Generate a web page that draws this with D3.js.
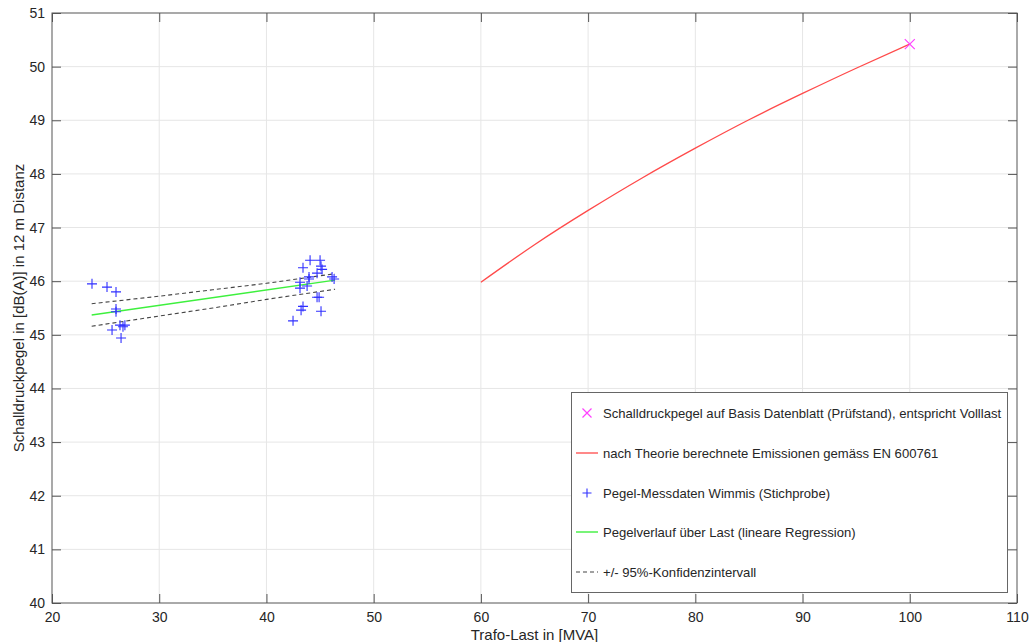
<!DOCTYPE html>
<html><head><meta charset="utf-8">
<script src="https://cdn.jsdelivr.net/npm/d3@7"></script>
<style>body{margin:0;background:#fff}svg{display:block}text{font-family:"Liberation Sans",Arial,sans-serif}</style>
</head><body><svg id="c" width="1030" height="642"></svg>
<script>
const xTicks=[20,30,40,50,60,70,80,90,100,110];
const yTicks=[40,41,42,43,44,45,46,47,48,49,50,51];
// Datasheet full-load value
const datasheetX=[100];
const datasheetY=[50.42];
// Theory curve (EN 60076)
const theoryX=[60,65,70,75,80,85,90,95,100];
const theoryY=[45.98,46.68,47.32,47.92,48.48,49.01,49.50,49.97,50.42];
// Measured samples (Wimmis)
const measX=[23.73,25.13,25.97,25.97,25.97,25.6,26.34,26.62,26.44,26.8,
  44.07,45.0,43.41,45.09,45.19,44.72,43.97,46.12,46.31,43.13,43.13,43.79,44.72,44.91,43.41,43.23,45.09,42.48,43.97];
const measY=[45.95,45.89,45.80,45.48,45.43,45.09,45.18,45.15,44.94,45.18,
  46.39,46.39,46.25,46.28,46.22,46.15,46.08,46.08,46.04,45.98,45.87,45.91,45.70,45.70,45.53,45.46,45.44,45.26,46.04];
// Linear regression
const regX=[23.7,46.4];
const regY=[45.37,46.02];
// 95% confidence bands
const bandX=[23.7,30,35,40,46.4];
const bandUp=[45.58,45.72,45.84,45.96,46.14];
const bandLo=[45.16,45.35,45.50,45.66,45.85];
const legendLabels=["Schalldruckpegel auf Basis Datenblatt (Prüfstand), entspricht Volllast",
 "nach Theorie berechnete Emissionen gemäss EN 600761",
 "Pegel-Messdaten Wimmis (Stichprobe)",
 "Pegelverlauf über Last (lineare Regression)",
 "+/- 95%-Konfidenzintervall"];

const svg=d3.select("#c");
const L=52,R=1017,T=13,B=603;
const x=d3.scaleLinear().domain([20,110]).range([L,R]);
const y=d3.scaleLinear().domain([40,51]).range([B,T]);
const axisCol="#555", txtCol="#262626";

// grid
const g=svg.append("g");
g.selectAll(".gx").data(xTicks.slice(1,-1)).join("line").attr("x1",d=>x(d)).attr("x2",d=>x(d)).attr("y1",T).attr("y2",B).attr("stroke","#e6e6e6");
g.selectAll(".gy").data(yTicks.slice(1,-1)).join("line").attr("y1",d=>y(d)).attr("y2",d=>y(d)).attr("x1",L).attr("x2",R).attr("stroke","#e6e6e6");

// axes
const tk=9;
const ax=svg.append("g").attr("transform",`translate(0,${B})`).call(d3.axisBottom(x).tickValues(xTicks).tickSize(-tk).tickPadding(9).tickSizeOuter(0));
const axTop=svg.append("g").attr("transform",`translate(0,${T})`).call(d3.axisTop(x).tickValues(xTicks).tickSize(-tk).tickFormat("").tickSizeOuter(0));
const ay=svg.append("g").attr("transform",`translate(${L},0)`).call(d3.axisLeft(y).tickValues(yTicks).tickSize(-tk).tickPadding(7).tickSizeOuter(0));
const ayR=svg.append("g").attr("transform",`translate(${R},0)`).call(d3.axisRight(y).tickValues(yTicks).tickSize(-tk).tickFormat("").tickSizeOuter(0));
[ax,axTop,ay,ayR].forEach(a=>{a.select(".domain").remove();a.selectAll("line").attr("stroke",axisCol);a.selectAll("text").attr("fill",txtCol).style("font-size","14px").style("font-family","'Liberation Sans',Arial,sans-serif");});
svg.append("rect").attr("x",L).attr("y",T).attr("width",R-L).attr("height",B-T).attr("fill","none").attr("stroke",axisCol).attr("stroke-width",1);

// labels
svg.append("text").attr("x",(L+R)/2).attr("y",640).attr("text-anchor","middle").attr("fill",txtCol).style("font-size","15px").text("Trafo-Last in [MVA]");
svg.append("text").attr("transform",`translate(24,${(T+B)/2}) rotate(-90)`).attr("text-anchor","middle").attr("fill",txtCol).style("font-size","15px").text("Schalldruckpegel in [dB(A)] in 12 m Distanz");

// theory curve
const lineC=d3.line().x(d=>x(d[0])).y(d=>y(d[1])).curve(d3.curveNatural);
svg.append("path").datum(d3.zip(theoryX,theoryY)).attr("d",lineC).attr("fill","none").attr("stroke","#ff4a4a").attr("stroke-width",1.3);
const lineS=d3.line().x(d=>x(d[0])).y(d=>y(d[1]));
// bands
[bandUp,bandLo].forEach(b=>svg.append("path").datum(d3.zip(bandX,b)).attr("d",lineS).attr("fill","none").attr("stroke","#444").attr("stroke-width",1.1).attr("stroke-dasharray","4,3"));
// regression
svg.append("path").datum(d3.zip(regX,regY)).attr("d",lineS).attr("fill","none").attr("stroke","#3ef03e").attr("stroke-width",1.4);
// measured plus markers
const pm=5;
const pts=svg.append("g").selectAll("g").data(d3.zip(measX,measY)).join("g").attr("transform",d=>`translate(${x(d[0])},${y(d[1])})`);
pts.append("path").attr("d",`M${-pm},0H${pm}M0,${-pm}V${pm}`).attr("stroke","#3030ff").attr("stroke-width",1.1);
// datasheet x marker
const xm=5;
svg.append("g").selectAll("path").data(d3.zip(datasheetX,datasheetY)).join("path").attr("transform",d=>`translate(${x(d[0])},${y(d[1])})`)
 .attr("d",`M${-xm},${-xm}L${xm},${xm}M${-xm},${xm}L${xm},${-xm}`).attr("stroke","#ff40ff").attr("stroke-width",1.2);

// legend
const lg=svg.append("g");
lg.append("rect").attr("x",571.5).attr("y",392.5).attr("width",436).attr("height",200).attr("fill","#fff").attr("stroke","#666");
const ly=[413,453,493,532,572];
legendLabels.forEach((t,i)=>{
  lg.append("text").attr("x",603).attr("y",ly[i]).attr("dy","0.35em").attr("fill",txtCol).style("font-size","13.1px").text(t);
});
lg.append("path").attr("d",`M${587-4.5},${ly[0]-4.5}L${587+4.5},${ly[0]+4.5}M${587-4.5},${ly[0]+4.5}L${587+4.5},${ly[0]-4.5}`).attr("stroke","#ff40ff").attr("stroke-width",1.2);
lg.append("line").attr("x1",576).attr("x2",598).attr("y1",ly[1]).attr("y2",ly[1]).attr("stroke","#ff4a4a").attr("stroke-width",1.3);
lg.append("path").attr("d",`M${587-4.5},${ly[2]}H${587+4.5}M587,${ly[2]-4.5}V${ly[2]+4.5}`).attr("stroke","#3030ff").attr("stroke-width",1.1);
lg.append("line").attr("x1",576).attr("x2",598).attr("y1",ly[3]).attr("y2",ly[3]).attr("stroke","#3ef03e").attr("stroke-width",1.4);
lg.append("line").attr("x1",576).attr("x2",598).attr("y1",ly[4]).attr("y2",ly[4]).attr("stroke","#444").attr("stroke-width",1.1).attr("stroke-dasharray","4,3");
</script></body></html>
